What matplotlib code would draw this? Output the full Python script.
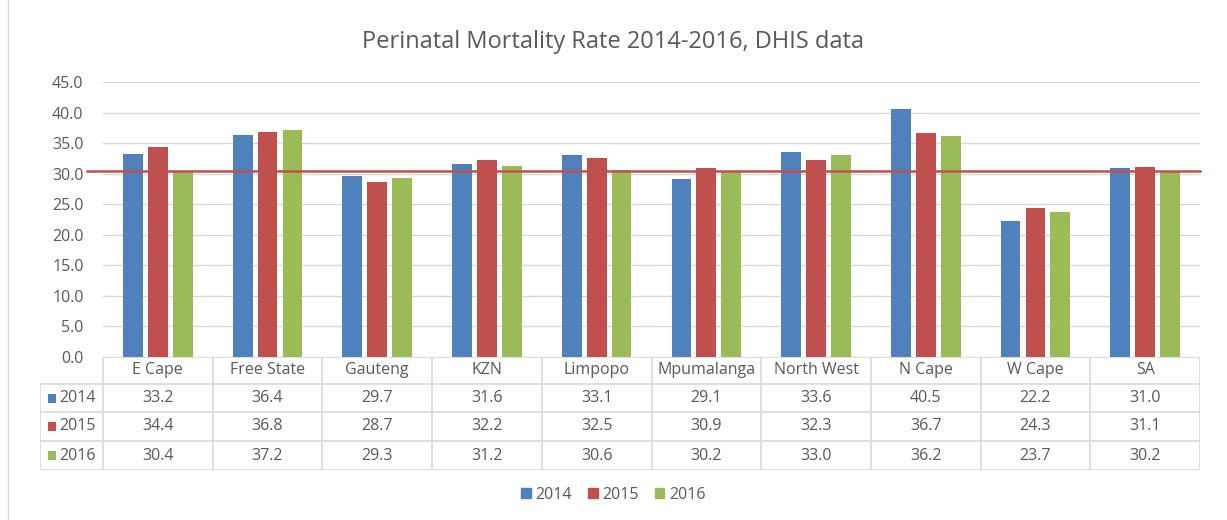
import numpy as np
import matplotlib.pyplot as plt
from matplotlib.patches import Patch, Rectangle

# data
regions = ["E Cape", "Free State", "Gauteng", "KZN", "Limpopo",
           "Mpumalanga", "North West", "N Cape", "W Cape", "SA"]
years = ["2014", "2015", "2016"]
rate_2014 = [33.2, 36.4, 29.7, 31.6, 33.1, 29.1, 33.6, 40.5, 22.2, 31.0]
rate_2015 = [34.4, 36.8, 28.7, 32.2, 32.5, 30.9, 32.3, 36.7, 24.3, 31.1]
rate_2016 = [30.4, 37.2, 29.3, 31.2, 30.6, 30.2, 33.0, 36.2, 23.7, 30.2]
target = 30.4
yticks = np.arange(0, 50, 5)

colors = ["#4F81BD", "#C0504D", "#9BBB59"]
grey_txt = "#595959"
grid_col = "#D9D9D9"
fs = 11.5
plt.rcParams['font.family'] = ['Open Sans', 'DejaVu Sans']

W, H = 1227, 520
fig = plt.figure(figsize=(W / 100, H / 100), dpi=100)

# plot area in pixels
x0, x1 = 103, 1200
y0, y1 = 357, 82
ax = fig.add_axes([x0 / W, 1 - y0 / H, (x1 - x0) / W, (y0 - y1) / H])

n = len(regions)
x = np.arange(n)
step = 0.227
bw = 0.18
series = [rate_2014, rate_2015, rate_2016]
for i, vals in enumerate(series):
    ax.bar(x + (i - 1) * step, vals, width=bw, color=colors[i], zorder=3)

ax.set_xlim(-0.5, n - 0.5)
ax.set_ylim(0, 45)
ax.set_yticks(yticks)
ax.set_yticklabels([f"{v:.1f}" for v in yticks], color=grey_txt, fontsize=fs)
ax.set_xticks([])
ax.tick_params(axis="y", length=0, pad=14)
ax.grid(axis="y", color=grid_col, lw=1, zorder=0)
for s in ax.spines.values():
    s.set_visible(False)

# red reference line, runs a bit past the axis on the left
ax.plot([-0.65, n - 0.5], [target, target], color="#C0504D", lw=1.8,
        zorder=4, clip_on=False)

fig.text(0.5, 1 - 42 / H, "Perinatal Mortality Rate 2014-2016, DHIS data",
         ha="center", va="center", fontsize=17, color=grey_txt)

# data table underneath
tx0 = 40
unit = (x1 - x0) / n
left = -0.5 - (x0 - tx0) / unit
row_h = [357, 384, 412, 441, 470]
tab = fig.add_axes([tx0 / W, 1 - row_h[-1] / H, (x1 - tx0) / W,
                    (row_h[-1] - row_h[0]) / H])
tab.set_xlim(left, n - 0.5)
tab.set_ylim(4, 0)
tab.axis("off")

# heights in row units, scaled from pixel rows
ry = [(r - row_h[0]) / (row_h[-1] - row_h[0]) * 4 for r in row_h]
px_y = 4 / (row_h[-1] - row_h[0])
lc = dict(color=grid_col, lw=1.2)
tab.plot([-0.5, n - 0.5], [ry[0], ry[0]], **lc)
for r in ry[1:]:
    tab.plot([left, n - 0.5], [r, r], **lc)
tab.plot([left, left], [ry[1], ry[4]], **lc)
for k in range(n + 1):
    tab.plot([k - 0.5, k - 0.5], [ry[0], ry[4]], **lc)

for k, name in enumerate(regions):
    tab.text(k, (ry[0] + ry[1]) / 2, name, ha="center", va="center",
             fontsize=fs, color=grey_txt)
for i, vals in enumerate(series):
    yc = (ry[i + 1] + ry[i + 2]) / 2
    tab.add_patch(Rectangle((left + 8 / unit, yc - 4.5 * px_y), 8 / unit,
                            9 * px_y, color=colors[i], lw=0))
    tab.text(left + 19 / unit, yc, years[i], ha="left", va="center",
             fontsize=fs, color=grey_txt)
    for k, v in enumerate(vals):
        tab.text(k, yc, f"{v:.1f}", ha="center", va="center",
                 fontsize=fs, color=grey_txt)

# legend
handles = [Patch(color=c, label=y) for c, y in zip(colors, years)]
fig.legend(handles=handles, loc="center", bbox_to_anchor=(0.5, 1 - 495 / H),
           ncol=3, frameon=False, fontsize=fs, handlelength=0.6,
           handleheight=0.6, handletextpad=0.3, columnspacing=1.0,
           labelcolor=grey_txt)

# chart border on the left
fig.add_artist(plt.Line2D([8 / W, 8 / W], [0, 1], color=grid_col, lw=1))

fig.savefig("out.png", dpi=100, facecolor="white")
